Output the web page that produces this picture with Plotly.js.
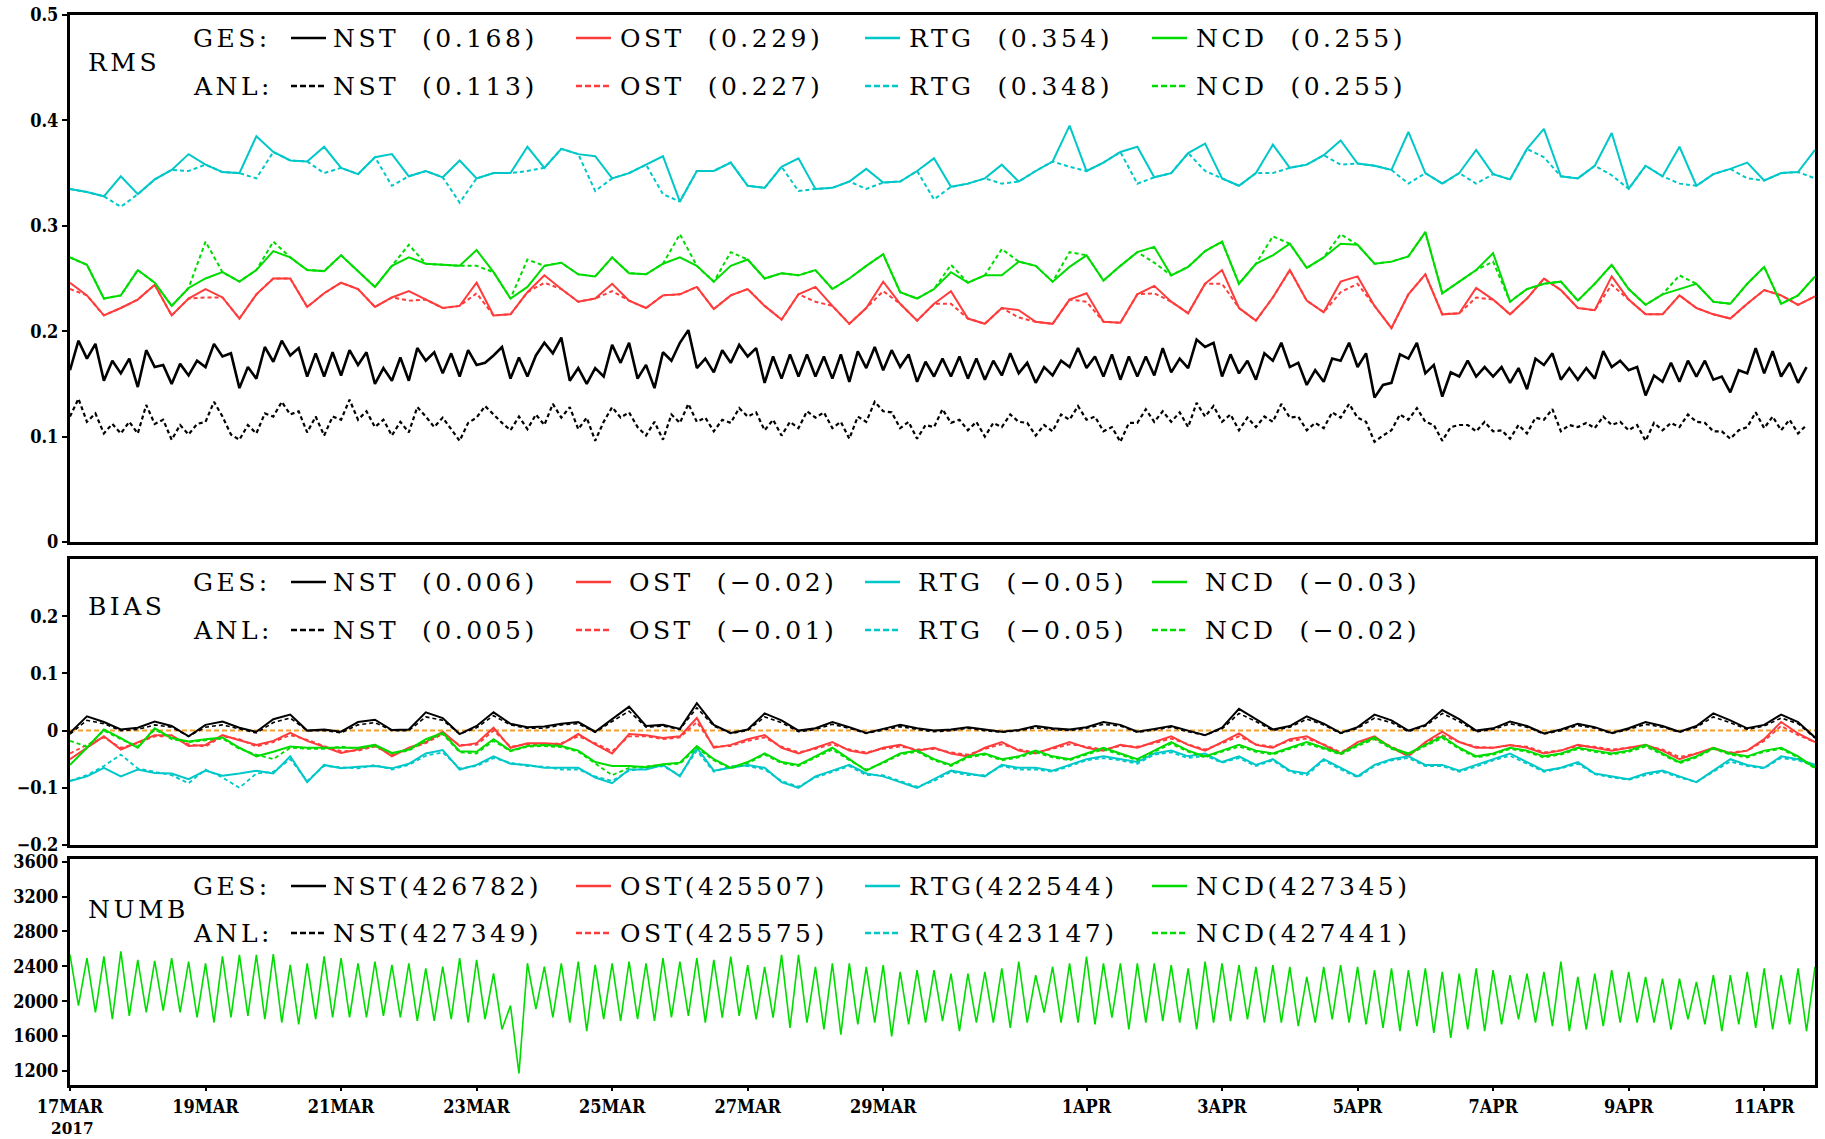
<!DOCTYPE html>
<html><head><meta charset="utf-8">
<script src="https://cdn.plot.ly/plotly-3.0.1.min.js"></script>
<style>
html,body{margin:0;padding:0;background:#fff;}
#chart{width:1825px;height:1139px;}
.annotation-text{letter-spacing:3.5px;}
</style></head><body><div id="chart"></div>
<script>
// ---------- time axis (days since 17MAR2017 00Z) ----------
const tickDays  = [0,2,4,6,8,10,12,15,17,19,21,23,25];
const tickNames = ['17MAR','19MAR','21MAR','23MAR','25MAR','27MAR','29MAR','1APR','3APR','5APR','7APR','9APR','11APR'];
const yearLabel = '2017';

// ---------- RMS (3-hourly for NST, 6-hourly for others) ----------
const rmsNstGes = [.163,.191,.174,.188,.153,.172,.160,.174,.147,.182,.166,.168,.150,.169,.158,.172,.166,.188,.176,.179,.146,.166,.155,.185,.171,.191,
.177,.184,.157,.179,.157,.180,.158,.182,.168,.180,.150,.165,.153,.175,.153,.184,.172,.180,.160,.179,.157,.182,.168,.170,.177,.185,.155,.175,.157,.177,.189,.179,.194,.153,.165,.150,.165,.157,.187,.170,.189,.155,.168,.146,.180,.172,.189,.201,
.165,.174,.161,.182,.170,.187,.176,.184,.151,.176,.155,.178,.157,.178,.157,.176,.155,.178,.152,.181,.165,.185,.163,.182,.166,.178,.152,.171,.157,.174,.157,.176,.155,.174,.154,.172,.158,.179,.160,.170,.151,.166,.158,.172,.166,.184,.165,.176,.157,.178,.154,.176,.157,.176,.158,.184,.161,.174,.165,.192,.185,.189,.157,.178,.160,
.172,.154,.179,.172,.189,.166,.170,.149,.163,.152,.174,.172,.189,.166,.179,.137,.149,.151,.178,.174,.189,.160,.168,.138,.161,.157,.172,.157,.166,.157,.166,.151,.165,.145,.174,.168,.179,.154,.165,.154,.165,.155,.181,.166,.172,.163,.166,.139,.158,.152,.170,.152,.172,.157,.172,.154,.157,.142,.163,.160,.184,.160,.181,.157,.170,.151,.166];
const rmsNstAnl = [.119,.136,.114,.122,.103,.112,.103,.114,.103,.130,.112,.116,.097,.111,.102,.112,.114,.133,.119,.102,.097,.111,.103,.122,.119,.133,
.121,.124,.104,.119,.101,.119,.116,.135,.116,.124,.109,.116,.101,.114,.104,.128,.119,.109,.118,.107,.096,.113,.118,.129,.121,.113,.106,.119,.107,.121,.111,.131,.118,.128,.107,.118,.096,.114,.128,.118,.123,.109,.101,.114,.097,.121,.113,
.131,.114,.118,.105,.116,.113,.127,.119,.123,.106,.116,.101,.114,.108,.124,.118,.123,.108,.114,.098,.119,.114,.133,.124,.123,.108,.114,.098,.111,.109,.126,.113,.116,.106,.114,.100,.113,.109,.121,.114,.113,.101,.111,.105,.121,.116,.129,.116,.119,.105,.109,.095,.113,.113,.126,.114,.124,.114,.123,.109,.132,.119,.129,.114,.121,.106,
.118,.109,.119,.114,.131,.118,.119,.106,.113,.108,.123,.118,.131,.118,.114,.095,.101,.106,.121,.116,.127,.114,.111,.096,.109,.111,.111,.105,.114,.105,.106,.098,.111,.103,.118,.116,.126,.105,.111,.109,.113,.108,.119,.111,.114,.106,.111,.096,.113,.106,.113,.109,.121,.114,.113,.105,.105,.098,.106,.109,.123,.108,.119,.106,.116,.103,.111];
const rmsOstGes = [.246,.234,.215,.222,.230,.244,.215,.231,.240,.232,
.212,.235,.250,.250,.223,.236,.246,.240,.223,.232,
.238,.230,.222,.224,.246,.215,.216,.237,.253,.240,
.228,.231,.245,.229,.222,.234,.235,.242,.221,.234,
.240,.224,.211,.235,.242,.224,.207,.222,.247,.226,
.210,.226,.238,.212,.207,.222,.220,.209,.207,.230,
.236,.209,.208,.235,.243,.228,.217,.245,.258,.222,
.210,.232,.258,.229,.218,.247,.252,.224,.203,.235,
.254,.216,.217,.241,.230,.216,.231,.250,.239,.222,
.220,.252,.230,.216,.216,.234,.222,.216,.212,.226,
.239,.234,.225,.233];
const rmsOstAnl = [.240,.234,.215,.222,.230,.244,.215,.231,.232,.232,
.212,.235,.250,.250,.223,.236,.246,.240,.223,.232,
.229,.230,.222,.224,.236,.215,.216,.237,.246,.240,
.228,.231,.238,.229,.222,.234,.235,.242,.221,.234,
.240,.224,.211,.235,.228,.224,.207,.222,.238,.226,
.210,.226,.226,.212,.207,.222,.213,.209,.207,.230,
.228,.209,.208,.235,.236,.228,.217,.245,.245,.222,
.210,.232,.258,.229,.218,.237,.245,.224,.203,.235,
.254,.216,.217,.232,.230,.216,.231,.250,.239,.222,
.220,.244,.230,.216,.216,.234,.222,.216,.212,.226,
.239,.234,.225,.233];
const rmsRtgGes = [.335,.332,.328,.347,.330,.344,.353,.368,.358,.351,
.350,.385,.370,.362,.361,.375,.355,.349,.365,.368,
.347,.352,.346,.362,.345,.350,.350,.375,.355,.373,
.368,.366,.345,.350,.358,.366,.323,.352,.352,.360,
.338,.336,.356,.364,.335,.336,.342,.354,.341,.342,
.352,.364,.337,.340,.345,.358,.342,.352,.361,.395,
.352,.360,.370,.375,.346,.350,.369,.378,.345,.338,
.350,.377,.355,.358,.367,.381,.359,.357,.353,.389,
.350,.340,.350,.372,.349,.344,.373,.392,.347,.345,
.357,.388,.335,.357,.347,.375,.338,.349,.354,.360,
.343,.350,.351,.372];
const rmsRtgAnl = [.335,.332,.328,.318,.330,.344,.353,.352,.358,.351,
.350,.345,.370,.362,.361,.350,.355,.349,.365,.338,
.347,.352,.346,.322,.345,.350,.350,.352,.355,.373,
.368,.333,.345,.350,.358,.330,.323,.352,.352,.360,
.338,.336,.356,.333,.335,.336,.342,.335,.341,.342,
.352,.325,.337,.340,.345,.340,.342,.352,.361,.356,
.352,.360,.370,.340,.346,.350,.369,.352,.345,.338,
.350,.350,.355,.358,.367,.358,.359,.357,.353,.340,
.350,.340,.350,.340,.349,.344,.373,.365,.347,.345,
.357,.348,.335,.357,.347,.340,.338,.349,.354,.345,
.343,.350,.351,.345];
const rmsNcdGes = [.270,.263,.231,.234,.258,.246,.224,.241,.250,.256,
.247,.258,.276,.270,.258,.257,.272,.257,.242,.262,
.270,.264,.263,.262,.277,.256,.231,.242,.262,.265,
.254,.252,.270,.255,.254,.264,.270,.262,.247,.262,
.268,.250,.255,.253,.258,.240,.250,.262,.273,.237,
.231,.240,.256,.246,.253,.253,.266,.262,.247,.261,
.272,.248,.262,.275,.280,.253,.261,.276,.285,.245,
.264,.272,.283,.260,.270,.283,.282,.264,.266,.271,
.294,.236,.247,.258,.274,.228,.240,.245,.247,.229,
.245,.263,.240,.225,.235,.240,.245,.228,.226,.245,
.261,.226,.234,.252];
const rmsNcdAnl = [.270,.263,.231,.234,.258,.246,.224,.241,.285,.256,
.247,.258,.285,.270,.258,.257,.272,.257,.242,.262,
.282,.264,.263,.262,.262,.256,.231,.268,.262,.265,
.254,.252,.270,.255,.254,.264,.292,.262,.247,.275,
.268,.250,.255,.253,.258,.240,.250,.262,.273,.237,
.231,.240,.263,.246,.253,.278,.266,.262,.247,.275,
.272,.248,.262,.275,.265,.253,.261,.276,.285,.245,
.264,.290,.283,.260,.270,.292,.282,.264,.266,.271,
.294,.236,.247,.258,.266,.228,.240,.245,.247,.229,
.245,.263,.240,.225,.235,.253,.245,.228,.226,.245,
.261,.226,.234,.252];

// ---------- BIAS (6-hourly) ----------
const biasNstGes = [-.004,.025,.015,.002,.005,.016,.008,-.010,.010,.016,
.005,-.002,.020,.028,.000,.002,-.002,.015,.019,.001,
.002,.032,.022,-.006,.008,.032,.012,.006,.007,.012,
.015,-.002,.020,.042,.008,.010,.003,.048,.010,-.004,
.002,.030,.018,.000,.004,.015,.006,-.004,.003,.010,
.004,.000,.002,.006,.002,-.002,.001,.008,.004,.002,
.006,.015,.010,-.002,.003,.008,.000,-.008,.005,.038,
.020,.002,.008,.025,.012,-.004,.006,.028,.018,.000,
.010,.036,.020,.000,.004,.016,.008,-.005,.002,.012,
.006,-.004,.004,.015,.008,-.002,.008,.030,.018,.004,
.010,.028,.015,-.012];
const biasNstAnl = [-.006,.018,.012,.000,.002,.010,.006,-.010,.006,.010,
.003,-.004,.014,.022,.000,.000,-.004,.010,.014,.000,
.000,.024,.018,-.006,.005,.026,.010,.004,.004,.010,
.012,-.003,.016,.034,.006,.008,.002,.040,.008,-.005,
.000,.024,.014,-.002,.002,.011,.004,-.005,.001,.007,
.002,-.002,.000,.004,.000,-.003,.000,.005,.002,.000,
.004,.011,.008,-.003,.001,.006,-.002,-.008,.003,.030,
.016,.000,.006,.020,.010,-.005,.004,.022,.014,-.002,
.008,.030,.016,-.002,.002,.012,.006,-.006,.000,.009,
.004,-.005,.002,.011,.006,-.003,.006,.024,.014,.002,
.008,.022,.012,-.013];
const biasOstGes = [-.050,-.030,-.010,-.033,-.020,-.008,-.008,-.027,-.025,-.008,
-.017,-.025,-.018,-.004,-.018,-.029,-.039,-.033,-.025,-.045,
-.030,-.020,-.002,-.027,-.022,.005,-.030,-.022,-.022,-.024,
-.006,-.024,-.040,-.006,-.008,-.013,-.010,.022,-.030,-.025,
-.015,-.008,-.030,-.040,-.030,-.020,-.035,-.040,-.030,-.025,
-.035,-.030,-.040,-.045,-.030,-.020,-.035,-.040,-.030,-.020,
-.030,-.035,-.025,-.030,-.020,-.010,-.025,-.035,-.020,-.005,
-.025,-.030,-.015,-.010,-.025,-.040,-.020,-.010,-.030,-.045,
-.020,-.002,-.020,-.030,-.030,-.025,-.030,-.040,-.035,-.025,
-.030,-.035,-.030,-.025,-.035,-.050,-.040,-.030,-.040,-.035,
-.015,.015,-.005,-.020];
const biasOstAnl = [-.040,-.025,-.012,-.030,-.022,-.010,-.010,-.024,-.028,-.010,
-.015,-.028,-.020,-.008,-.016,-.027,-.036,-.035,-.028,-.042,
-.032,-.022,-.006,-.025,-.025,.000,-.028,-.024,-.025,-.022,
-.010,-.022,-.036,-.010,-.010,-.015,-.012,.015,-.028,-.027,
-.018,-.012,-.028,-.038,-.032,-.024,-.033,-.038,-.032,-.028,
-.033,-.032,-.038,-.042,-.032,-.024,-.033,-.038,-.032,-.024,
-.028,-.033,-.027,-.028,-.022,-.014,-.024,-.033,-.022,-.010,
-.024,-.028,-.018,-.014,-.024,-.038,-.022,-.014,-.028,-.042,
-.022,-.008,-.020,-.028,-.030,-.026,-.028,-.038,-.034,-.027,
-.028,-.033,-.030,-.027,-.033,-.046,-.040,-.032,-.038,-.035,
-.018,.008,-.008,-.020];
const biasRtgGes = [-.088,-.080,-.065,-.080,-.068,-.074,-.075,-.085,-.070,-.079,
-.075,-.070,-.075,-.045,-.090,-.060,-.066,-.063,-.062,-.066,
-.058,-.040,-.034,-.068,-.060,-.045,-.058,-.060,-.065,-.065,
-.065,-.082,-.092,-.068,-.068,-.060,-.080,-.030,-.070,-.065,
-.060,-.065,-.090,-.100,-.080,-.070,-.060,-.075,-.080,-.090,
-.100,-.085,-.070,-.075,-.080,-.060,-.065,-.065,-.070,-.060,
-.050,-.045,-.050,-.055,-.040,-.035,-.045,-.040,-.055,-.045,
-.060,-.050,-.070,-.075,-.050,-.065,-.080,-.060,-.050,-.045,
-.060,-.060,-.070,-.060,-.050,-.040,-.055,-.070,-.065,-.055,
-.075,-.080,-.085,-.075,-.070,-.080,-.090,-.070,-.050,-.060,
-.065,-.045,-.050,-.060];
const biasRtgAnl = [-.088,-.078,-.062,-.042,-.066,-.072,-.078,-.092,-.068,-.082,
-.100,-.075,-.072,-.050,-.088,-.062,-.064,-.066,-.060,-.068,
-.060,-.044,-.038,-.066,-.062,-.048,-.056,-.062,-.063,-.068,
-.068,-.080,-.088,-.070,-.066,-.062,-.078,-.035,-.072,-.062,
-.062,-.068,-.088,-.098,-.082,-.072,-.062,-.078,-.078,-.088,
-.098,-.088,-.072,-.078,-.078,-.062,-.068,-.068,-.072,-.062,
-.052,-.048,-.052,-.058,-.042,-.038,-.048,-.044,-.056,-.048,
-.062,-.052,-.072,-.078,-.052,-.068,-.082,-.062,-.052,-.048,
-.062,-.062,-.072,-.063,-.052,-.044,-.058,-.072,-.066,-.058,
-.076,-.082,-.086,-.078,-.072,-.082,-.090,-.072,-.054,-.062,
-.066,-.048,-.052,-.062];
const biasNcdGes = [-.060,-.030,.002,-.013,-.030,.004,-.013,-.019,-.015,-.012,
-.030,-.045,-.037,-.028,-.030,-.030,-.030,-.030,-.025,-.039,
-.033,-.015,-.004,-.036,-.037,-.015,-.035,-.027,-.025,-.027,
-.035,-.055,-.062,-.062,-.064,-.059,-.056,-.027,-.050,-.065,
-.055,-.040,-.055,-.060,-.045,-.030,-.050,-.070,-.055,-.040,
-.035,-.050,-.060,-.045,-.040,-.050,-.045,-.035,-.045,-.050,
-.040,-.030,-.040,-.050,-.035,-.020,-.035,-.045,-.035,-.025,
-.035,-.040,-.030,-.020,-.030,-.040,-.025,-.012,-.030,-.040,
-.025,-.010,-.030,-.045,-.040,-.030,-.035,-.045,-.040,-.030,
-.035,-.040,-.035,-.025,-.040,-.055,-.045,-.030,-.040,-.045,
-.035,-.030,-.045,-.065];
const biasNcdAnl = [-.018,-.028,.000,-.015,-.028,.002,-.015,-.020,-.017,-.014,
-.032,-.042,-.050,-.030,-.032,-.032,-.028,-.032,-.027,-.040,
-.035,-.018,-.006,-.038,-.040,-.018,-.036,-.028,-.027,-.029,
-.037,-.058,-.078,-.065,-.062,-.060,-.058,-.030,-.052,-.066,
-.057,-.042,-.057,-.062,-.047,-.033,-.052,-.068,-.057,-.042,
-.037,-.052,-.062,-.047,-.042,-.052,-.047,-.038,-.047,-.052,
-.042,-.033,-.042,-.052,-.037,-.023,-.037,-.047,-.037,-.028,
-.037,-.042,-.032,-.023,-.032,-.042,-.027,-.015,-.032,-.042,
-.027,-.013,-.032,-.047,-.042,-.032,-.037,-.047,-.042,-.032,
-.037,-.042,-.037,-.028,-.042,-.057,-.047,-.032,-.042,-.047,
-.037,-.032,-.047,-.066];

// ---------- NUMB (3-hourly, NCD drawn on top of the others) ----------
const numbNcd = [2532,1950,2493,1872,2513,1794,2571,1833,2474,1872,2462,1891,2493,1872,2454,1814,2435,1756,2513,1814,
2532,1833,2532,1794,2540,1756,2416,1736,2435,1794,2513,1814,2493,1814,2435,1814,2454,1833,2416,1814,
2435,1775,2377,1775,2396,1794,2493,1756,2474,1794,2318,1678,1950,1173,2435,1910,2396,1814,2435,1756,
2454,1658,2416,1794,2435,1775,2454,1794,2435,1775,2493,1814,2454,1833,2493,1754,
2473,1812,2512,1832,2415,1793,2395,1812,2531,1695,2531,1754,2395,1676,2434,1618,2434,1734,2395,1754,
2415,1598,2337,1734,2356,1754,2356,1773,2317,1657,2317,1754,2337,1754,2376,1695,2453,1754,2298,1870,
2395,1754,2434,1754,2512,1734,2434,1812,2434,1676,2434,1754,2434,1773,2415,1754,2376,1676,2453,1754,
2434,1773,2415,1793,2395,1754,
2415,1754,2395,1715,2279,1754,2395,1793,2415,1754,2395,1734,2356,1695,2376,1657,2356,1715,2376,1637,
2337,1579,2317,1676,2376,1657,2356,1734,2298,1793,2317,1754,2337,1715,2453,1657,2279,1676,2317,1715,
2356,1754,2337,1754,2279,1754,2259,1676,2259,1793,2220,1734,2298,1657,2298,1734,2337,1695,2376,1676,
2298,1734,2376,1657,2395];

// ---------- legend statistics ----------
const seriesNames = ['NST','OST','RTG','NCD'];
const seriesColors = ['#000000','#ff3c3c','#00c8c8','#00dc00'];
const rmsGesMean = ['0.168','0.229','0.354','0.255'];
const rmsAnlMean = ['0.113','0.227','0.348','0.255'];
const biasGesMean = ['0.006','\u22120.02','\u22120.05','\u22120.03'];
const biasAnlMean = ['0.005','\u22120.01','\u22120.05','\u22120.02'];
const numbGesTotal = ['426782','425507','422544','427345'];
const numbAnlTotal = ['427349','425575','423147','427441'];

// ---------- build ----------
const xs = (arr, step) => arr.map((_, k) => k * step);
const DASH = '4px,3px';
const traces = [];
function addPair(ges, anl, step, color, xa, ya, wG, wA) {
  traces.push({x: xs(ges, step), y: ges, type: 'scatter', mode: 'lines', xaxis: xa, yaxis: ya,
    line: {color: color, width: wG}, hoverinfo: 'skip'});
  traces.push({x: xs(anl, step), y: anl, type: 'scatter', mode: 'lines', xaxis: xa, yaxis: ya,
    line: {color: color, width: wA, dash: DASH}, hoverinfo: 'skip'});
}
// RMS (top panel: x3 / y)
addPair(rmsNstGes, rmsNstAnl, 0.125, seriesColors[0], 'x3', 'y', 2.6, 2.2);
addPair(rmsOstGes, rmsOstAnl, 0.25, seriesColors[1], 'x3', 'y', 2, 2);
addPair(rmsRtgGes, rmsRtgAnl, 0.25, seriesColors[2], 'x3', 'y', 2, 2);
addPair(rmsNcdGes, rmsNcdAnl, 0.25, seriesColors[3], 'x3', 'y', 2, 2);
// BIAS (middle panel: x2 / y2)
addPair(biasNstGes, biasNstAnl, 0.25, seriesColors[0], 'x2', 'y2', 2, 1.6);
addPair(biasOstGes, biasOstAnl, 0.25, seriesColors[1], 'x2', 'y2', 2, 1.8);
addPair(biasRtgGes, biasRtgAnl, 0.25, seriesColors[2], 'x2', 'y2', 2, 1.8);
addPair(biasNcdGes, biasNcdAnl, 0.25, seriesColors[3], 'x2', 'y2', 2, 1.8);
// NUMB (bottom panel: x / y3)
traces.push({x: xs(numbNcd, 0.125), y: numbNcd, type: 'scatter', mode: 'lines', xaxis: 'x', yaxis: 'y3',
  line: {color: seriesColors[3], width: 1.6}, hoverinfo: 'skip'});

// pixel helpers
const W = 1825, H = 1139, ML = 70, MR = 10, MT = 15, MB = 54;
const PW = W - ML - MR, PH = H - MT - MB;
const px = X => (X - ML) / PW;
const py = Y => (H - MB - Y) / PH;

const annFont = {family: 'DejaVu Serif, Liberation Serif, serif', size: 25, color: '#000'};
const tickFont = {family: 'DejaVu Serif Condensed, DejaVu Serif, serif', size: 18, color: '#000', weight: 'bold'};
const yearFont = {family: 'DejaVu Serif Condensed, DejaVu Serif, serif', size: 17, color: '#000', weight: 'bold'};
const annotations = [];
const shapes = [];
function txt(X, Y, s) {
  annotations.push({xref: 'paper', yref: 'paper', x: px(X), y: py(Y), text: s, showarrow: false,
    xanchor: 'left', yanchor: 'middle', font: annFont, borderpad: 0});
}
function sample(X0, X1, Y, color, dashed) {
  shapes.push({type: 'line', xref: 'paper', yref: 'paper', x0: px(X0), x1: px(X1), y0: py(Y), y1: py(Y),
    line: {color: color, width: 2.5, dash: dashed ? '6px,3px' : 'solid'}});
}
const lineX = [[291,326],[576,611],[865,900],[1152,1187]];
const textX = [332, 619, 908, 1195];
function block(label, labelY, gesY, anlY, gesVals, anlVals, compact, textShift) {
  txt(87, labelY, label);
  txt(192, gesY, 'GES:');
  txt(192, anlY, 'ANL:');
  for (let k = 0; k < 4; k++) {
    sample(lineX[k][0], lineX[k][1], gesY, seriesColors[k], false);
    sample(lineX[k][0], lineX[k][1], anlY, seriesColors[k], true);
    const sep = compact ? '(' : '\u00a0\u00a0(';
    const tx = textX[k] + (k > 0 ? textShift : 0);
    txt(tx, gesY, seriesNames[k] + sep + gesVals[k] + ')');
    txt(tx, anlY, seriesNames[k] + sep + anlVals[k] + ')');
  }
}
block('RMS', 63, 38, 86, rmsGesMean, rmsAnlMean, false, 0);
block('BIAS', 606, 582, 630, biasGesMean, biasAnlMean, false, 9);
block('NUMB', 909, 886, 933, numbGesTotal, numbAnlTotal, true, 0);

// year under the first date tick (no extra letter spacing)
const yearIdx = annotations.length;
annotations.push({xref: 'paper', yref: 'paper', x: px(72), y: py(1128), text: yearLabel, showarrow: false,
  xanchor: 'center', yanchor: 'middle', font: yearFont, borderpad: 0});
const st = document.createElement('style');
st.textContent = '.annotation[data-index="' + yearIdx + '"] .annotation-text{letter-spacing:0;}';
document.head.appendChild(st);

// zero line in BIAS panel
shapes.push({type: 'line', xref: 'x2', yref: 'y2', x0: 0, x1: 25.75, y0: 0, y1: 0, layer: 'below',
  line: {color: '#f0a030', width: 2, dash: '5px,3px'}});

const axBase = {showline: true, mirror: true, linewidth: 3, linecolor: '#000', showgrid: false, zeroline: false,
  ticks: 'outside', ticklen: 5, tickwidth: 2, tickcolor: '#000', tickfont: tickFont};
const xRange = [0, 25.75];
const layout = {
  width: W, height: H, paper_bgcolor: '#fff', plot_bgcolor: '#fff',
  margin: {l: ML, r: MR, t: MT, b: MB}, showlegend: false,
  xaxis: Object.assign({}, axBase, {anchor: 'y3', range: xRange, tickmode: 'array', tickvals: tickDays, ticktext: tickNames, ticklen: 3}),
  xaxis2: Object.assign({}, axBase, {anchor: 'y2', range: xRange, ticks: '', showticklabels: false}),
  xaxis3: Object.assign({}, axBase, {anchor: 'y', range: xRange, ticks: '', showticklabels: false}),
  yaxis: Object.assign({}, axBase, {domain: [py(542), 1], range: [0, 0.5], tickmode: 'array',
    tickvals: [0, 0.1, 0.2, 0.3, 0.4, 0.5], ticktext: ['0', '0.1', '0.2', '0.3', '0.4', '0.5']}),
  yaxis2: Object.assign({}, axBase, {domain: [py(845), py(559)], range: [-0.2, 0.3], tickmode: 'array',
    tickvals: [-0.2, -0.1, 0, 0.1, 0.2], ticktext: ['\u22120.2', '\u22120.1', '0', '0.1', '0.2']}),
  yaxis3: Object.assign({}, axBase, {domain: [0, py(859)], range: [1040, 3630], tickmode: 'array',
    tickvals: [1200, 1600, 2000, 2400, 2800, 3200, 3600]}),
  annotations: annotations, shapes: shapes
};
Plotly.newPlot('chart', traces, layout, {staticPlot: true, displayModeBar: false});
</script></body></html>
